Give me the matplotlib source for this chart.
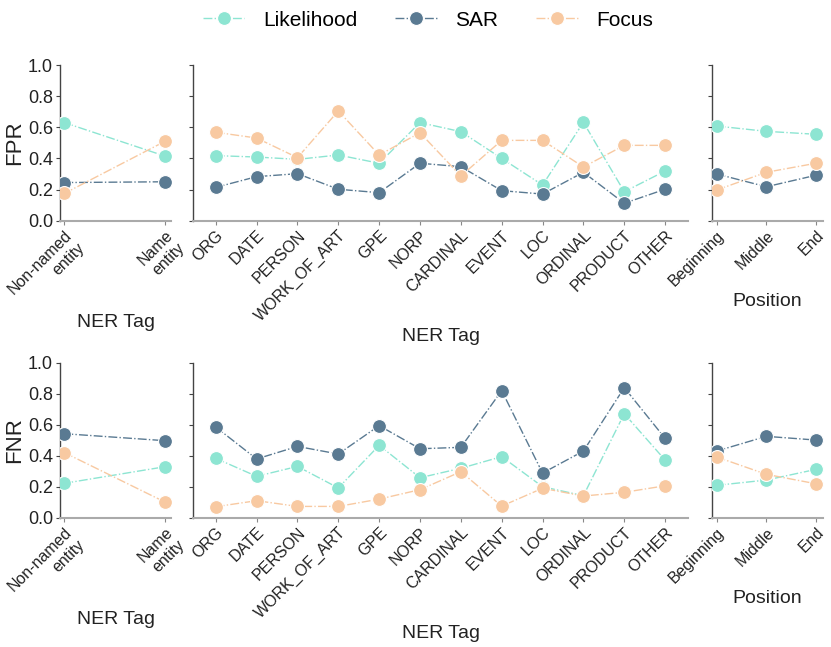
import numpy as np
import matplotlib
matplotlib.use("Agg")
import matplotlib.pyplot as plt

plt.rcParams['font.family'] = ['Liberation Sans', 'DejaVu Sans']

METHODS = ["Likelihood", "SAR", "Focus"]
COLORS = {"Likelihood": "#8de5d2", "SAR": "#5a7a92", "Focus": "#f8c9a1"}

ENT_CATS = ["Non-named\nentity", "Name\nentity"]
NER_CATS = ["ORG", "DATE", "PERSON", "WORK_OF_ART", "GPE", "NORP", "CARDINAL",
            "EVENT", "LOC", "ORDINAL", "PRODUCT", "OTHER"]
POS_CATS = ["Beginning", "Middle", "End"]

# FPR
fpr_ent = {"Likelihood": [0.63, 0.415], "SAR": [0.245, 0.25], "Focus": [0.175, 0.51]}
fpr_ner = {
    "Likelihood": [0.418, 0.409, 0.394, 0.422, 0.369, 0.63, 0.572, 0.40, 0.229, 0.632, 0.186, 0.319],
    "SAR":        [0.214, 0.283, 0.302, 0.202, 0.18, 0.369, 0.347, 0.193, 0.171, 0.311, 0.112, 0.202],
    "Focus":      [0.568, 0.531, 0.405, 0.705, 0.422, 0.565, 0.287, 0.516, 0.516, 0.345, 0.484, 0.484],
}
fpr_pos = {"Likelihood": [0.608, 0.574, 0.555], "SAR": [0.30, 0.218, 0.292], "Focus": [0.197, 0.311, 0.369]}

# FNR
fnr_ent = {"Likelihood": [0.222, 0.329], "SAR": [0.542, 0.497], "Focus": [0.42, 0.101]}
fnr_ner = {
    "Likelihood": [0.383, 0.267, 0.331, 0.192, 0.467, 0.258, 0.319, 0.394, 0.20, 0.142, 0.671, 0.372],
    "SAR":        [0.585, 0.379, 0.46, 0.411, 0.594, 0.445, 0.454, 0.82, 0.288, 0.43, 0.839, 0.512],
    "Focus":      [0.071, 0.11, 0.073, 0.073, 0.12, 0.181, 0.297, 0.075, 0.19, 0.14, 0.164, 0.206],
}
fnr_pos = {"Likelihood": [0.209, 0.243, 0.312], "SAR": [0.43, 0.525, 0.501], "Focus": [0.392, 0.28, 0.219]}

fig = plt.figure(figsize=(8.31, 6.47), dpi=100)

# (left, width, xlim) for the three columns
COLS = [(0.0722, 0.1336, (-0.043, 1.06)),
        (0.2326, 0.5953, (-0.55, 11.56)),
        (0.8564, 0.1340, (-0.10, 2.14))]
ROWS = [(0.6589, 0.2406, "FPR", [fpr_ent, fpr_ner, fpr_pos]),
        (0.1998, 0.2396, "FNR", [fnr_ent, fnr_ner, fnr_pos])]
CATS = [ENT_CATS, NER_CATS, POS_CATS]
XLAB = ["NER Tag", "NER Tag", "Position"]

handles = None
for bottom, height, ylab, datas in ROWS:
    for ci, ((left, width, xl), cats, data, xlab) in enumerate(zip(COLS, CATS, datas, XLAB)):
        ax = fig.add_axes([left, bottom, width, height])
        x = np.arange(len(cats))
        hs = []
        for m in METHODS:
            h, = ax.plot(x, data[m], ls="-.", lw=1.0, color=COLORS[m], marker="o",
                         markersize=10, markeredgecolor="white", markeredgewidth=0.8,
                         label=m, zorder=3)
            hs.append(h)
        handles = hs
        ax.set_xlim(*xl)
        ax.set_ylim(0, 1)
        ax.set_yticks([0, 0.2, 0.4, 0.6, 0.8, 1.0])
        ax.set_xticks(x)
        ax.set_xticklabels(cats, rotation=45, ha="right", rotation_mode="anchor",
                           fontsize=11.5, color="#222222")
        ax.spines["top"].set_visible(False)
        ax.spines["right"].set_visible(False)
        ax.spines["left"].set_color("#444444")
        ax.spines["left"].set_linewidth(1.0)
        ax.spines["bottom"].set_color("#aaaaaa")
        ax.spines["bottom"].set_linewidth(1.5)
        ax.tick_params(axis="x", length=3, color="#888888", pad=2)
        ax.tick_params(axis="y", length=3, color="#444444", labelsize=13, labelcolor="#222222", pad=2)
        if ci == 0:
            ax.set_yticklabels(["0.0", "0.2", "0.4", "0.6", "0.8", "1.0"])
            ax.set_ylabel(ylab, fontsize=16, color="#222222", labelpad=2)
        else:
            ax.set_yticklabels([])
        ax.set_xlabel(xlab, fontsize=14, color="#222222", labelpad=3)

fig.legend(handles, METHODS, loc="center", bbox_to_anchor=(0.515, 1 - 20 / 647), ncol=3,
           frameon=False, fontsize=15, columnspacing=1.8, handlelength=2.0, handletextpad=0.9)

plt.savefig("out.png", dpi=100)
